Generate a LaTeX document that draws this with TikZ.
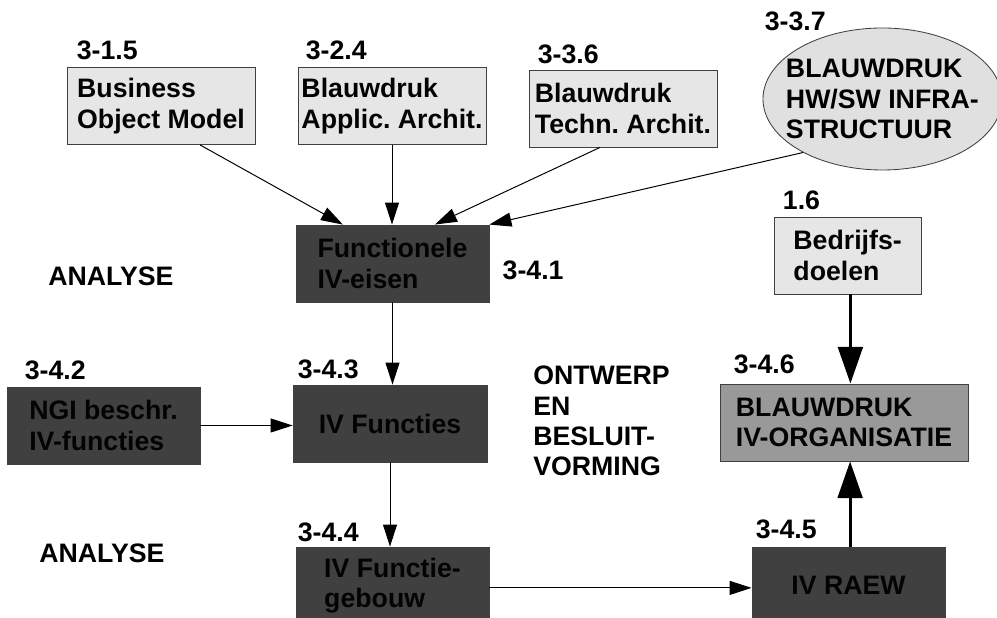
\documentclass[tikz,border=0pt]{standalone}
\usepackage{fontspec}
\setmainfont{Liberation Sans}
\usetikzlibrary{arrows.meta,shapes.geometric}
\frenchspacing
\definecolor{boxlight}{RGB}{230,230,230}
\definecolor{boxdark}{RGB}{64,64,64}
\definecolor{boxmid}{RGB}{153,153,153}
\definecolor{boxink}{RGB}{3,3,3}

\begin{document}
\begin{tikzpicture}[
    font=\fontsize{19pt}{21.6pt}\selectfont\bfseries,
    box/.style={draw=black!75, line width=0.6pt, text=boxink, minimum width=4.7cm, minimum height=1.925cm, align=left, inner sep=0pt},
    lightbox/.style={box, fill=boxlight},
    darkbox/.style={box, fill=boxdark, minimum width=4.825cm},
    num/.style={inner sep=0pt, anchor=south west},
    phase/.style={inner sep=0pt, anchor=base west, align=left},
    arr/.style={-{Triangle[length=0.55cm, width=0.35cm]}, line width=0.7pt},
    bigarr/.style={-{Triangle[length=0.92cm, width=0.62cm]}, line width=2.1pt}
]
    \useasboundingbox (0,0) rectangle (24.925,15.45);

    % Blueprints on top
    \node[lightbox] (bom) at (4.025,12.8) {Business\\Object Model};
    \node[lightbox] (app) at (9.8,12.8) {Blauwdruk\\Applic. Archit.};
    \node[lightbox] (tec) at (15.575,12.7375) {Blauwdruk\\Techn. Archit.};
    \node[ellipse, draw=black!75, line width=0.6pt, fill=black!12, minimum width=5.75cm, minimum height=3.55cm, inner xsep=-0.3cm, inner ysep=0pt, align=left] (ell) at (22.06,12.975) {BLAUWDRUK\\HW/SW INFRA-\\STRUCTUUR};
    \node[lightbox, minimum width=3.675cm] (bed) at (21.19,9.0625) {Bedrijfs-\\doelen};

    % Analysis steps
    \node[darkbox] (fun) at (9.8125,8.8625) {Functionele\\IV-eisen};
    \node[darkbox] (ngi) at (2.5875,4.8125) {NGI beschr.\\IV-functies};
    \node[darkbox, minimum width=4.85cm] (ivf) at (9.75,4.8625) {IV Functies};
    \node[darkbox] (geb) at (9.8125,0.8125) {IV Functie-\\gebouw};
    \node[darkbox] (raew) at (21.2125,0.8125) {IV RAEW};
    \node[box, fill=boxmid, minimum width=6.2cm] (org) at (21.1,4.8875) {BLAUWDRUK\\IV-ORGANISATIE};

    % Numbers
    \foreach \n/\t/\dx/\dy in {bom/3-1.5/0.25/0.175, app/3-2.4/0.2/0.175, tec/3-3.6/0.225/0.125,
            bed/1.6/0.225/0.175, ngi/3-4.2/0.45/0.15, ivf/3-4.3/0.125/0.125,
            geb/3-4.4/0.05/0.1, org/3-4.6/0.35/0.225, raew/3-4.5/0.1/0.175} {
        \node[num] (\n num) at ([xshift=\dx cm, yshift=\dy cm]\n.north west) {\t};
    }
    \node[num] (ellnum) at ([xshift=0.05cm, yshift=1.7cm]ell.west) {3-3.7};
    \node[num] (funnum) at ([xshift=0.325cm, yshift=-0.41cm]fun.east) {3-4.1};

    % Phases
    \node[phase] (ana1) at (1.2,8.3) {ANALYSE};
    \node[phase] (ana2) at (0.975,1.375) {ANALYSE};
    \node[phase] (ontw) at (13.325,3.55) {ONTWERP\\EN\\BESLUIT-\\VORMING};

    % Connectors
    \draw[arr] ([xshift=0.975cm]bom.south) -- ([xshift=-1.24cm]fun.north);
    \draw[arr] (app.south) -- (app.south |- fun.north);
    \draw[arr] ([xshift=-0.575cm]tec.south) -- ([xshift=1.06cm]fun.north);
    \draw[arr] (ell.214) -- (fun.north east);
    \draw[arr] (fun.south) -- (fun.south |- ivf.north);
    \draw[arr] (ngi.east) -- (ngi.east -| ivf.west);
    \draw[arr] (ivf.south) -- (ivf.south |- geb.north);
    \draw[arr] ([yshift=-0.06cm]geb.east) -- ([yshift=-0.06cm]geb.east -| raew.west);
    \draw[bigarr] ([xshift=0.07cm]bed.south) -- ([xshift=0.07cm]bed.south |- org.north);
    \draw[bigarr] ([xshift=0.04cm]raew.north) -- ([xshift=0.04cm]raew.north |- org.south);
\end{tikzpicture}
\end{document}
